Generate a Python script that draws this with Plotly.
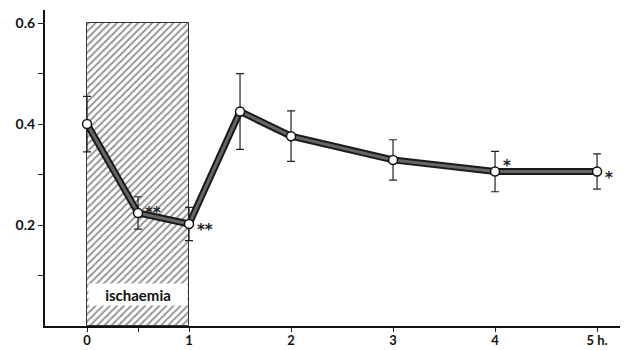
import plotly.graph_objects as go

times = [0, 0.5, 1, 1.5, 2, 3, 4, 5]
values = [0.40, 0.224, 0.202, 0.425, 0.376, 0.329, 0.306, 0.306]
errors = [0.055, 0.032, 0.033, 0.075, 0.05, 0.04, 0.04, 0.035]
signif = ["", "**", "**", "", "", "", "*", "*"]

isch_start, isch_end, isch_top = 0, 1, 0.6
isch_label = "ischaemia"

x_tickvals = [0, 0.5, 1, 2, 3, 4, 5]
x_ticktext = ["0", "", "1", "2", "3", "4", "5 h."]
y_tickvals = [0.1, 0.2, 0.3, 0.4, 0.5, 0.6]
y_ticktext = ["", "0.2", "", "0.4", "", "0.6"]

fig = go.Figure()

# hatched ischaemia period
fig.add_trace(go.Bar(
    x=[(isch_start + isch_end) / 2], y=[isch_top], width=[isch_end - isch_start],
    marker=dict(color="white",
                pattern=dict(shape="/", fgcolor="#222", bgcolor="white", size=5, solidity=0.35),
                line=dict(color="#333", width=1)),
    hoverinfo="skip", showlegend=False))

# outer dark line + error bars
fig.add_trace(go.Scatter(
    x=times, y=values, mode="lines",
    line=dict(color="#1a1a1a", width=7),
    error_y=dict(type="data", array=errors, color="#222", thickness=1.2, width=4),
    showlegend=False))
# inner grey line
fig.add_trace(go.Scatter(
    x=times, y=values, mode="lines",
    line=dict(color="#666666", width=3), showlegend=False))
# markers
fig.add_trace(go.Scatter(
    x=times, y=values, mode="markers",
    marker=dict(symbol="circle", size=9, color="white", line=dict(color="#111", width=1.5)),
    showlegend=False))

# significance marks
for t, v, s in zip(times, values, signif):
    if not s:
        continue
    if t == 4:
        xs, ys = 6, 6
    elif t == 0.5:
        xs, ys = 5, 0
    else:
        xs, ys = 6, -6
    fig.add_annotation(x=t, y=v, text=s, showarrow=False,
                       xanchor="left", yanchor="middle",
                       xshift=xs, yshift=ys,
                       font=dict(family="DejaVu Sans", size=15, color="#222", weight="bold"))

fig.add_annotation(x=(isch_start + isch_end) / 2, y=0.063, text=isch_label, showarrow=False,
                   bgcolor="white", width=98, height=21, borderpad=0,
                   font=dict(family="Lato", size=15, color="#111", weight="bold"))

fig.update_layout(
    width=624, height=350,
    margin=dict(l=45, r=4, t=10, b=24, autoexpand=False),
    paper_bgcolor="white", plot_bgcolor="white",
    bargap=0,
    xaxis=dict(range=[-0.412, 5.225], tickvals=x_tickvals, ticktext=x_ticktext,
               ticks="outside", ticklen=4, tickwidth=1, tickcolor="#222", automargin=False,
               ticklabelstandoff=-3,
               showline=True, linecolor="#111", linewidth=2, showgrid=False, zeroline=False,
               tickfont=dict(family="Lato", size=13, color="#111", weight="bold")),
    yaxis=dict(range=[0, 0.626], tickvals=y_tickvals, ticktext=y_ticktext,
               ticks="outside", ticklen=5, tickwidth=1, tickcolor="#222", automargin=False,
               showline=True, linecolor="#111", linewidth=2, showgrid=False, zeroline=False,
               tickfont=dict(family="Lato", size=14, color="#111", weight="bold")),
)

fig.write_html("out.html", config={"displayModeBar": False},
               post_script="document.body.style.margin='0';document.body.style.padding='0';")
